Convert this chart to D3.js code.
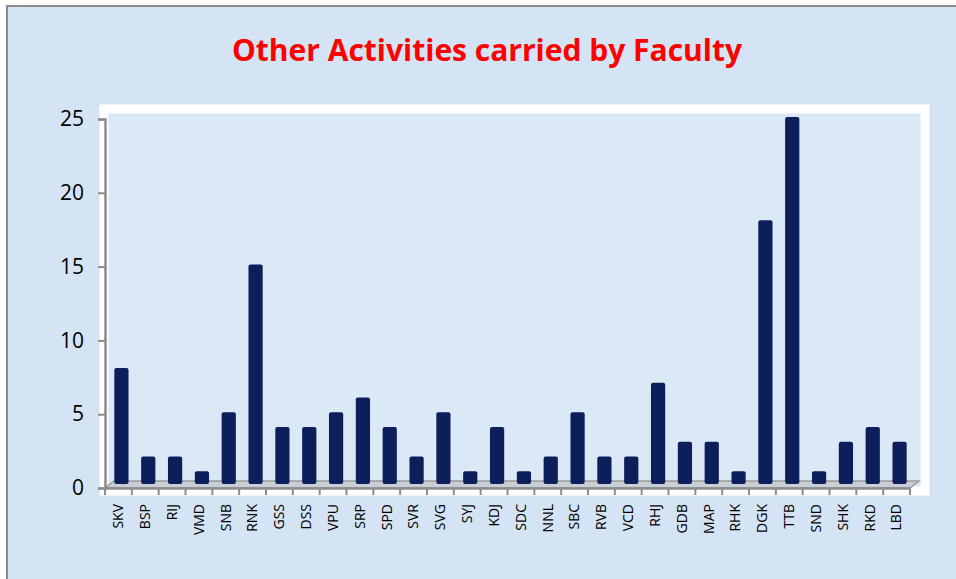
<!DOCTYPE html>
<html>
<head>
<meta charset="utf-8">
<script src="https://cdn.jsdelivr.net/npm/d3@7"></script>
<style>
  body { margin: 0; background: #ffffff; }
  svg { display: block; }
</style>
</head>
<body>
<div id="chart"></div>
<script>
// data
const categories = ["SKV","BSP","RIJ","VMD","SNB","RNK","GSS","DSS","VPU","SRP",
  "SPD","SVR","SVG","SYJ","KDJ","SDC","NNL","SBC","RVB","VCD",
  "RHJ","GDB","MAP","RHK","DGK","TTB","SND","SHK","RKD","LBD"];
const values = [8,2,2,1,5,15,4,4,5,6,4,2,5,1,4,1,2,5,2,2,7,3,3,1,18,25,1,3,4,3];
const yTicks = [0,5,10,15,20,25];
const title = "Other Activities carried by Faculty";

const W = 956, H = 579;
const plot = {left: 105, right: 910, top: 119, bottom: 488};

let svg = d3.select("#chart").append("svg")
  .attr("width", W).attr("height", H);

// background + frame
svg.append("rect").attr("x", 0).attr("y", 0).attr("width", W).attr("height", H)
  .attr("fill", "#ffffff");
svg.append("rect").attr("x", 7).attr("y", 6).attr("width", W).attr("height", H)
  .attr("fill", "#d4e4f4").attr("stroke", "#8c8c8c").attr("stroke-width", 2);

// plot area with white border
svg.append("rect").attr("x", 104).attr("y", 109).attr("width", 821).attr("height", 382)
  .attr("fill", "#dbe8f6").attr("stroke", "#ffffff").attr("stroke-width", 9);

// scales
let x = d3.scaleBand().domain(categories).range([plot.left, plot.right]).padding(0);
let y = d3.scaleLinear().domain([0, 25]).range([plot.bottom, plot.top]);

// 3D floor
svg.append("polygon")
  .attr("points", [[plot.left, plot.bottom], [plot.right, plot.bottom],
    [plot.right + 9, plot.bottom - 7], [plot.left + 9, plot.bottom - 7]].join(" "))
  .attr("fill", "#c9ced6").attr("stroke", "#9a9a9a").attr("stroke-width", 1.5);

// bars
let bw = x.bandwidth() * 0.53;
svg.append("g").selectAll("rect")
  .data(values)
  .join("rect")
  .attr("x", (d, i) => x(categories[i]) + x.bandwidth() / 2 - bw / 2 + 3)
  .attr("y", d => y(d) - 2)
  .attr("width", bw)
  .attr("height", d => plot.bottom - 4 - y(d) + 2)
  .attr("rx", 2)
  .attr("fill", "#0c1f5b");

// y axis
let yAxis = svg.append("g")
  .attr("transform", "translate(" + plot.left + ",0)")
  .call(d3.axisLeft(y).tickValues(yTicks).tickSize(7).tickPadding(14));
yAxis.select(".domain").attr("stroke", "#8c8c8c").attr("stroke-width", 2.5);
yAxis.selectAll(".tick line").attr("stroke", "#8c8c8c").attr("stroke-width", 2);
yAxis.selectAll("text").attr("font-family", "Open Sans, sans-serif")
  .attr("font-size", 21).attr("fill", "#000");

// x axis
let xAxis = svg.append("g")
  .attr("transform", "translate(0," + plot.bottom + ")")
  .call(d3.axisBottom(x).tickSize(0).tickPadding(0));
xAxis.select(".domain").attr("stroke", "#8c8c8c").attr("stroke-width", 2.5);
xAxis.selectAll("text")
  .attr("font-family", "Open Sans, sans-serif")
  .attr("font-size", 14).attr("fill", "#000")
  .attr("text-anchor", "end")
  .attr("transform", "rotate(-90)")
  .attr("x", -16).attr("y", 0).attr("dy", "0.35em");

// tick marks at category boundaries
svg.append("g").selectAll("line")
  .data(d3.range(categories.length + 1))
  .join("line")
  .attr("x1", i => plot.left + i * x.step())
  .attr("x2", i => plot.left + i * x.step())
  .attr("y1", plot.bottom).attr("y2", plot.bottom + 7)
  .attr("stroke", "#8c8c8c").attr("stroke-width", 2);

// title
svg.append("text")
  .attr("x", 487).attr("y", 61)
  .attr("text-anchor", "middle")
  .attr("font-family", "Open Sans, sans-serif")
  .attr("font-weight", "bold")
  .attr("font-size", 30)
  .attr("fill", "#ff0000")
  .text(title);
</script>
</body>
</html>
